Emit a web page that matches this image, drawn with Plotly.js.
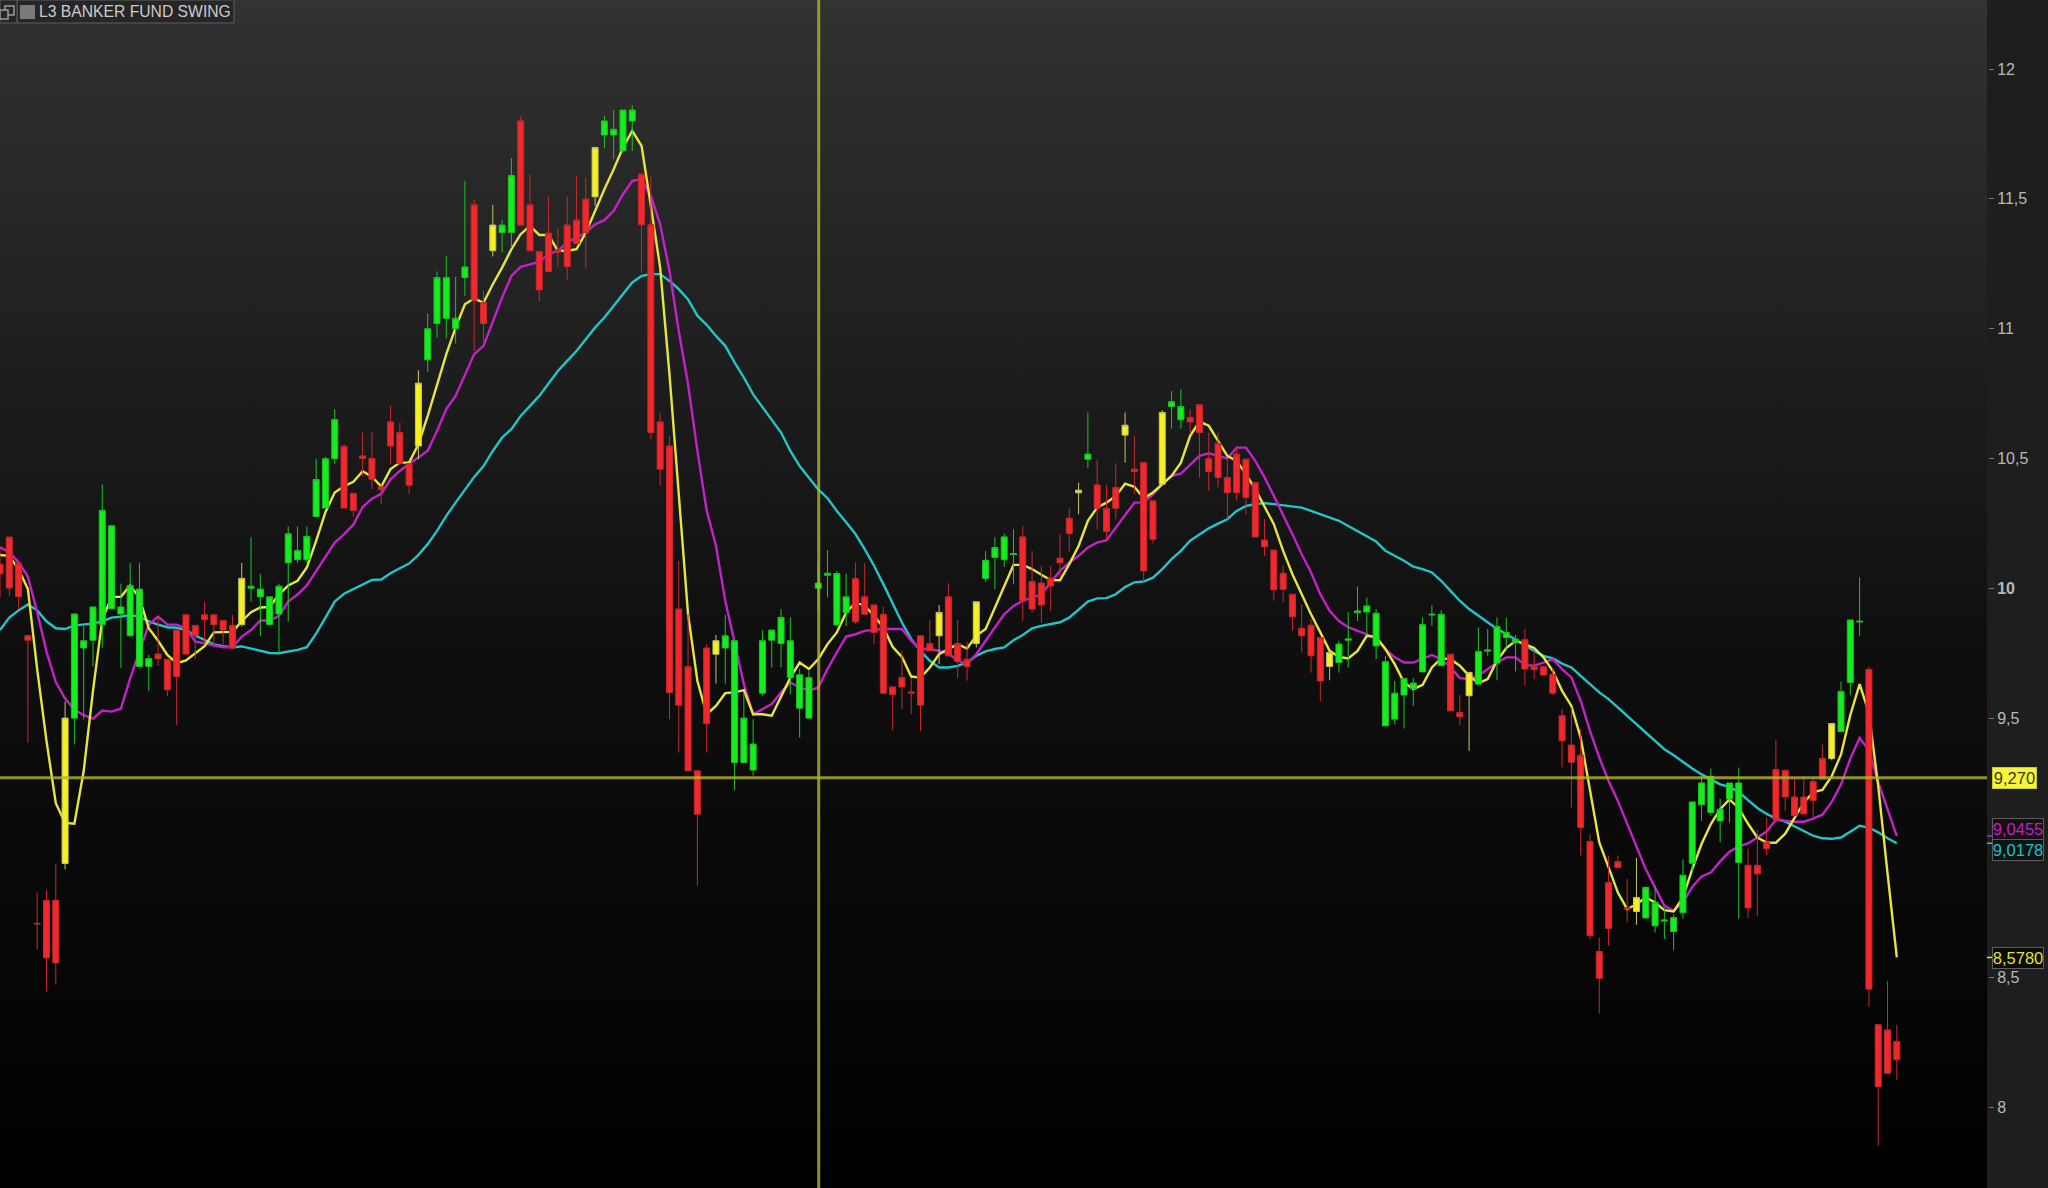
<!DOCTYPE html>
<html>
<head>
<meta charset="utf-8">
<script src="https://cdn.plot.ly/plotly-3.0.1.min.js"></script>
<style>
html,body{margin:0;padding:0;background:#1e1e1e;overflow:hidden}
#chart{width:2048px;height:1188px;
background:linear-gradient(to bottom,#333333 0,#2f2f2f 50px,#0f0f0f 640px,#000 1188px) 0 0/1987px 100% no-repeat,#1e1e1e}
</style>
</head>
<body>
<div id="chart"></div>
<script>
const chartName = "L3 BANKER FUND SWING";
const tickVals = [12,11.5,11,10.5,10,9.5,8.5,8];
const tickLabels = ["12","11,5","11","10,5","<b>10</b>","9,5","8,5","8"];
const tone = ("rrrrrrr y ggggggggg rrrrrrrrr y gggggggggg rrrrrrrr y ggggg rr y gg rrrrrrrr y gggg rrrrrrrr y gggggggggggggg rrrrrrrrr y rrr y gggg rrrrrr y g rrr y rrr y gg rrrrrrrrrrrrrrr y gggggggggggg rr y ggggg rrrrrrrrrrrr y ggggggggggg rrrrrrrrr y ggg rrrr").replace(/ /g,"");
const bodyTop = [
10.093,10.197,10.097,9.818,8.709,8.798,8.798,9.50,9.901,9.798,
9.928,10.30,10.241,9.928,10.011,9.997,9.729,9.747,9.726,9.839,
9.898,9.857,9.898,9.898,9.876,9.857,10.038,10.008,9.997,9.967,
10.008,10.21,10.146,10.2,10.419,10.499,10.65,10.547,10.366,10.51,
10.50,10.39,10.641,10.60,10.48,10.79,11.0,11.197,11.197,11.04,
11.238,11.477,11.10,11.399,11.399,11.59,11.80,11.477,11.297,11.368,
11.305,11.399,11.418,11.499,11.698,11.80,11.768,11.842,11.842,11.595,
11.40,10.641,10.548,9.92,9.698,9.297,9.77,9.798,9.817,9.798,
9.50,9.40,9.798,9.839,9.888,9.798,9.667,9.656,10.02,10.058,
10.057,9.967,10.038,9.967,9.936,9.90,9.62,9.656,9.60,9.817,
9.787,9.907,9.967,9.787,9.727,9.948,10.108,10.157,10.198,10.134,
10.198,10.026,10.02,10.039,10.116,10.27,10.378,10.517,10.398,10.308,
10.388,10.628,10.459,10.484,10.337,10.677,10.719,10.70,10.658,10.707,
10.50,10.558,10.427,10.517,10.497,10.407,10.186,10.147,10.058,9.977,
9.846,9.858,9.81,9.753,9.785,9.805,9.913,9.932,9.904,9.717,
9.596,9.653,9.635,9.86,9.90,9.90,9.746,9.522,9.676,9.757,
9.762,9.853,9.83,9.804,9.802,9.698,9.698,9.669,9.509,9.396,
9.357,9.025,8.601,8.867,8.947,8.77,8.809,8.848,8.79,8.722,
8.732,8.895,9.177,9.25,9.276,9.149,9.25,9.25,8.933,8.933,
9.022,9.302,9.299,9.196,9.196,9.256,9.344,9.479,9.603,9.878,
9.873,9.687,8.319,8.299,8.255];
const bodyBottom = [
10.056,10.001,9.968,9.80,8.707,8.577,8.557,8.94,9.50,9.77,
9.80,9.86,9.921,9.901,9.818,9.699,9.699,9.729,9.609,9.66,
9.747,9.818,9.88,9.86,9.839,9.77,9.86,10.0,9.967,9.86,
9.901,10.098,10.11,10.11,10.276,10.309,10.499,10.309,10.30,10.50,
10.42,10.38,10.548,10.48,10.397,10.548,10.88,11.02,11.04,11.0,
11.197,11.11,11.02,11.30,11.37,11.37,11.399,11.30,11.149,11.22,
11.295,11.239,11.328,11.37,11.508,11.746,11.746,11.685,11.80,11.40,
10.60,10.459,9.599,9.55,9.297,9.13,9.479,9.746,9.77,9.329,
9.329,9.30,9.596,9.80,9.787,9.656,9.538,9.50,10.0,10.05,
9.859,9.907,9.871,9.90,9.83,9.596,9.59,9.62,9.596,9.55,
9.759,9.817,9.74,9.718,9.699,9.787,10.038,10.119,10.11,10.13,
9.952,9.92,9.936,10.009,10.098,10.211,10.368,10.497,10.308,10.219,
10.308,10.59,10.45,10.067,10.189,10.401,10.70,10.649,10.641,10.60,
10.45,10.427,10.368,10.368,10.35,10.198,10.16,9.994,9.996,9.89,
9.817,9.74,9.643,9.699,9.714,9.80,9.906,9.909,9.778,9.47,
9.496,9.589,9.614,9.678,9.897,9.702,9.528,9.505,9.586,9.631,
9.758,9.712,9.81,9.79,9.689,9.687,9.666,9.596,9.413,9.33,
9.079,8.662,8.498,8.69,8.925,8.765,8.755,8.73,8.70,8.718,
8.678,8.75,8.941,9.166,9.136,9.104,9.188,8.944,8.769,8.90,
8.997,9.108,9.196,9.124,9.131,9.183,9.265,9.344,9.448,9.637,
9.87,8.456,8.08,8.132,8.184];
const high = [
10.16,10.197,10.097,9.818,8.828,8.837,8.938,9.564,9.901,9.853,
9.928,10.40,10.241,10.018,10.098,10.098,9.743,9.887,9.726,9.839,
9.898,9.857,9.949,9.898,9.876,9.898,10.098,10.197,10.056,9.967,
10.018,10.238,10.238,10.238,10.499,10.506,10.69,10.554,10.366,10.6,
10.6,10.40,10.703,10.638,10.48,10.84,11.058,11.22,11.28,11.20,
11.57,11.499,11.146,11.477,11.418,11.657,11.82,11.595,11.297,11.508,
11.387,11.508,11.589,11.582,11.698,11.82,11.842,11.842,11.861,11.595,
11.589,10.677,10.587,10.105,9.90,9.297,9.787,9.82,9.898,9.798,
9.599,9.496,9.839,9.839,9.92,9.888,9.689,9.682,10.106,10.147,
10.067,10.057,10.10,10.097,9.936,9.929,9.62,9.759,9.654,9.817,
9.877,9.936,10.019,9.877,9.795,9.948,10.144,10.196,10.211,10.228,
10.24,10.144,10.086,10.086,10.208,10.308,10.407,10.677,10.497,10.398,
10.481,10.677,10.587,10.484,10.337,10.686,10.76,10.767,10.69,10.707,
10.60,10.60,10.50,10.54,10.497,10.407,10.266,10.147,10.089,9.977,
9.936,9.88,9.81,9.76,9.798,9.907,10.007,9.964,9.92,9.74,
9.643,9.653,9.654,9.888,9.935,9.916,9.746,9.589,9.676,9.849,
9.843,9.888,9.888,9.82,9.843,9.76,9.698,9.69,9.535,9.54,
9.458,9.053,8.655,8.97,8.97,8.88,8.961,8.848,8.854,8.77,
8.745,8.956,9.177,9.276,9.306,9.189,9.25,9.309,8.997,9.07,
9.116,9.416,9.299,9.268,9.276,9.276,9.398,9.479,9.641,9.878,
10.042,9.698,8.319,8.488,8.319];
const low = [
9.963,9.970,9.921,9.405,8.608,8.447,8.474,8.917,9.399,9.495,
9.699,9.77,9.921,9.694,9.811,9.699,9.605,9.701,9.584,9.474,
9.743,9.729,9.784,9.77,9.784,9.77,9.853,9.949,9.815,9.86,
9.749,9.873,10.098,10.098,10.276,10.309,10.479,10.309,10.276,10.43,
10.382,10.325,10.478,10.48,10.362,10.497,10.834,10.966,10.963,10.943,
11.126,10.914,10.953,11.278,11.293,11.312,11.399,11.30,11.104,11.22,
11.238,11.187,11.328,11.233,11.473,11.695,11.653,11.678,11.685,11.216,
10.574,10.394,9.496,9.368,9.297,8.854,9.368,9.633,9.633,9.222,
9.329,9.278,9.586,9.695,9.695,9.592,9.425,9.50,9.913,9.965,
9.855,9.855,9.862,9.90,9.785,9.596,9.454,9.535,9.515,9.451,
9.759,9.708,9.74,9.654,9.644,9.772,10.025,9.997,10.083,10.016,
9.875,9.907,9.868,9.913,10.04,10.142,10.285,10.463,10.228,10.189,
10.266,10.484,10.362,10.022,10.172,10.401,10.615,10.615,10.594,10.427,
10.375,10.388,10.266,10.337,10.285,10.198,10.125,9.952,9.945,9.836,
9.752,9.675,9.566,9.646,9.675,9.695,9.874,9.82,9.727,9.47,
9.476,9.46,9.547,9.678,9.856,9.702,9.528,9.474,9.374,9.625,
9.74,9.646,9.76,9.68,9.625,9.65,9.666,9.59,9.31,9.156,
8.97,8.649,8.362,8.623,8.925,8.713,8.704,8.73,8.674,8.649,
8.606,8.727,8.91,9.104,9.124,9.022,9.098,8.727,8.73,8.738,
8.971,9.108,9.144,9.124,9.131,9.116,9.265,9.337,9.448,9.588,
9.817,8.388,7.852,8.132,8.106];
const yellowLine = [
10.128,10.125,10.073,9.997,9.688,9.412,9.172,9.096,9.093,9.296,
9.605,9.88,9.967,9.967,10.011,9.963,9.846,9.798,9.743,9.712,
9.722,9.75,9.777,9.83,9.83,9.832,9.873,9.908,9.926,9.928,
9.976,10.011,10.029,10.08,10.183,10.293,10.369,10.393,10.41,10.451,
10.43,10.392,10.459,10.484,10.484,10.555,10.664,10.786,10.902,11.004,
11.094,11.117,11.10,11.171,11.235,11.306,11.364,11.396,11.361,11.361,
11.30,11.30,11.306,11.37,11.454,11.537,11.614,11.698,11.762,11.704,
11.473,11.235,10.825,10.375,9.90,9.644,9.515,9.547,9.596,9.599,
9.608,9.515,9.515,9.509,9.58,9.656,9.714,9.689,9.727,9.785,
9.83,9.907,9.945,9.933,9.894,9.849,9.775,9.736,9.66,9.656,
9.695,9.746,9.766,9.785,9.768,9.817,9.843,9.926,10.003,10.09,
10.09,10.074,10.052,10.032,10.031,10.093,10.163,10.26,10.311,10.33,
10.356,10.403,10.391,10.347,10.369,10.401,10.433,10.484,10.587,10.642,
10.626,10.568,10.51,10.491,10.44,10.382,10.317,10.247,10.144,10.054,
9.977,9.90,9.83,9.759,9.736,9.73,9.759,9.817,9.813,9.766,
9.708,9.637,9.612,9.628,9.695,9.73,9.727,9.702,9.663,9.635,
9.65,9.721,9.77,9.798,9.785,9.77,9.734,9.682,9.605,9.547,
9.425,9.22,9.021,8.925,8.828,8.764,8.783,8.809,8.79,8.76,
8.755,8.809,8.918,9.015,9.092,9.149,9.187,9.154,9.093,9.04,
9.021,9.02,9.055,9.116,9.174,9.215,9.223,9.276,9.36,9.512,
9.631,9.52,9.238,8.903,8.578];
const magentaLine = [
10.158,10.139,10.10,10.045,9.908,9.756,9.639,9.575,9.533,9.511,
9.498,9.529,9.525,9.536,9.653,9.756,9.86,9.891,9.86,9.86,
9.846,9.795,9.788,9.781,9.773,9.774,9.814,9.839,9.876,9.876,
9.894,9.949,9.976,10.011,10.066,10.121,10.176,10.208,10.245,10.313,
10.345,10.364,10.42,10.452,10.48,10.504,10.53,10.606,10.69,10.741,
10.825,10.902,10.934,11.03,11.12,11.203,11.238,11.248,11.257,11.287,
11.30,11.332,11.351,11.37,11.402,11.418,11.454,11.518,11.569,11.576,
11.511,11.402,11.223,10.991,10.786,10.53,10.3,10.164,9.952,9.785,
9.631,9.515,9.535,9.554,9.599,9.637,9.618,9.605,9.618,9.689,
9.753,9.814,9.823,9.836,9.84,9.843,9.843,9.843,9.798,9.766,
9.766,9.759,9.749,9.721,9.708,9.746,9.798,9.849,9.90,9.932,
9.952,9.964,9.977,10.022,10.067,10.099,10.125,10.157,10.176,10.185,
10.234,10.285,10.33,10.33,10.362,10.401,10.433,10.442,10.478,10.51,
10.52,10.51,10.50,10.542,10.542,10.491,10.427,10.356,10.285,10.208,
10.131,10.061,9.977,9.913,9.874,9.85,9.836,9.823,9.804,9.766,
9.734,9.714,9.714,9.727,9.743,9.727,9.695,9.654,9.65,9.663,
9.689,9.714,9.734,9.734,9.704,9.702,9.714,9.727,9.689,9.657,
9.567,9.451,9.348,9.258,9.181,9.092,9.002,8.918,8.848,8.777,
8.758,8.79,8.85,8.89,8.905,8.948,8.985,9.006,9.017,9.04,
9.063,9.108,9.104,9.101,9.101,9.113,9.128,9.177,9.245,9.344,
9.424,9.375,9.253,9.146,9.0455];
const cyanLine = [
9.839,9.887,9.915,9.938,9.915,9.873,9.846,9.843,9.857,9.86,
9.864,9.873,9.887,9.891,9.897,9.891,9.873,9.86,9.85,9.848,
9.839,9.818,9.80,9.784,9.777,9.773,9.776,9.767,9.759,9.751,
9.75,9.756,9.763,9.773,9.825,9.887,9.949,9.979,9.997,10.015,
10.032,10.034,10.058,10.077,10.095,10.129,10.17,10.221,10.279,10.33,
10.382,10.429,10.471,10.529,10.581,10.613,10.664,10.703,10.741,10.789,
10.837,10.876,10.914,10.959,11.004,11.043,11.088,11.133,11.178,11.203,
11.21,11.21,11.184,11.152,11.113,11.05,11.015,10.972,10.934,10.87,
10.812,10.747,10.699,10.651,10.6,10.529,10.471,10.426,10.381,10.347,
10.298,10.254,10.209,10.151,10.087,10.016,9.939,9.868,9.804,9.759,
9.721,9.695,9.695,9.701,9.714,9.74,9.757,9.766,9.772,9.80,
9.82,9.846,9.855,9.862,9.869,9.887,9.919,9.949,9.961,9.962,
9.977,10.005,10.023,10.026,10.041,10.074,10.112,10.144,10.183,10.208,
10.231,10.249,10.266,10.298,10.317,10.324,10.328,10.324,10.32,10.315,
10.311,10.298,10.285,10.272,10.26,10.24,10.221,10.202,10.18,10.144,
10.125,10.106,10.083,10.074,10.061,10.029,9.99,9.952,9.92,9.894,
9.868,9.843,9.824,9.802,9.781,9.759,9.74,9.73,9.71,9.695,
9.663,9.631,9.599,9.573,9.541,9.509,9.477,9.445,9.413,9.38,
9.357,9.33,9.306,9.283,9.264,9.245,9.235,9.215,9.184,9.154,
9.131,9.113,9.101,9.082,9.063,9.047,9.037,9.035,9.04,9.063,
9.085,9.078,9.06,9.037,9.0178];
const crossPrice = 9.27, crossBar = 88.05;
const crossLabel = "9,270";
const lastYellow = 8.578, lastMagenta = 9.0455, lastCyan = 9.0178;
const lastYellowLabel = "8,5780", lastMagentaLabel = "9,0455", lastCyanLabel = "9,0178";

const bars = bodyTop.map((_, i) => i);
function candles(code, fill, wick) {
  const idx = bars.filter(i => tone[i] === code);
  const side = {line:{color:wick,width:1}, fillcolor:fill};
  return {type:"candlestick", x:idx, open:idx.map(i=>bodyBottom[i]), close:idx.map(i=>bodyTop[i]),
    high:idx.map(i=>high[i]), low:idx.map(i=>low[i]), increasing:side, decreasing:side,
    whiskerwidth:0, hoverinfo:"skip", showlegend:false, zorder:2};
}
function line(values, color) {
  return {type:"scatter", mode:"lines", x:bars, y:values, line:{color, width:2.4}, hoverinfo:"skip", showlegend:false, zorder:1};
}
const data = [
  line(cyanLine, "#22c6c8"),
  line(magentaLine, "#c222c8"),
  line(yellowLine, "#e6e640"),
  candles("g", "#14ee1e", "#1cc424"),
  candles("r", "#f2282c", "#c8282c"),
  candles("y", "#f6f01e", "#c8c46a")
];
const FONT = "Liberation Sans, Arial, sans-serif";
const chip = (bg, bd) => ({bgcolor:bg, bordercolor:bd, borderwidth:1, borderpad:0});
function tag(text, y, yshift, color, bg, bd, w) {
  return Object.assign({text, xref:"paper", yref:"y", x:1, y, xanchor:"left", yanchor:"middle", xshift:5, yshift,
    showarrow:false, width:w, height:20, align:"center", font:{family:FONT,size:16.5,color}}, chip(bg,bd));
}
function tickMark(y, color) {
  return {type:"line", xref:"paper", yref:"y", xsizemode:"pixel", xanchor:1, x0:0, x1:5, y0:y, y1:y, line:{color,width:1.5}, layer:"above"};
}
const layout = {
  width:2048, height:1188, paper_bgcolor:"rgba(0,0,0,0)", plot_bgcolor:"rgba(0,0,0,0)",
  margin:{l:0,r:61,t:0,b:0,pad:0}, showlegend:false, hovermode:false, dragmode:false, boxgap:0.08,
  xaxis:{range:[0,213.7], visible:false, rangeslider:{visible:false}, fixedrange:true},
  yaxis:{side:"right", range:[7.69,12.266], tickmode:"array", tickvals:tickVals, ticktext:tickLabels,
    ticks:"outside", ticklen:5, tickcolor:"#777", tickwidth:1, showline:true, linecolor:"#666", linewidth:2,
    showgrid:false, zeroline:false, fixedrange:true, tickfont:{family:FONT,size:16,color:"#b8b8b8"}},
  shapes:[
    {type:"line", xref:"x", yref:"paper", x0:crossBar, x1:crossBar, y0:0, y1:1, line:{color:"rgba(180,180,45,0.8)",width:3}, layer:"above"},
    {type:"line", xref:"paper", yref:"y", x0:0, x1:1, y0:crossPrice, y1:crossPrice, line:{color:"rgba(180,180,45,0.8)",width:3}, layer:"above"},
    tickMark(lastMagenta,"#c222c8"), tickMark(lastCyan,"#22c6c8"), tickMark(lastYellow,"#e6e640"),
    {type:"rect", xref:"paper", yref:"paper", x0:17/1987, x1:234/1987, y0:1-23/1188, y1:1, fillcolor:"#262626", line:{color:"#5c5c5c",width:1}, layer:"above"},
    {type:"rect", xref:"paper", yref:"paper", x0:20/1987, x1:35/1987, y0:1-19/1188, y1:1-5/1188, fillcolor:"#7a7a7a", line:{width:0}, layer:"above"},
    {type:"rect", xref:"paper", yref:"paper", x0:0, x1:17/1987, y0:1-23/1188, y1:1, fillcolor:"#262626", line:{color:"#5c5c5c",width:1}, layer:"above"},
    {type:"rect", xref:"paper", yref:"paper", x0:5/1987, x1:14/1987, y0:1-15/1188, y1:1-6/1188, fillcolor:"rgba(0,0,0,0)", line:{color:"#9a9a9a",width:1.5}, layer:"above"},
    {type:"rect", xref:"paper", yref:"paper", x0:0, x1:8/1987, y0:1-19/1188, y1:1-10/1188, fillcolor:"#262626", line:{color:"#9a9a9a",width:1.5}, layer:"above"}
  ],
  annotations:[
    {text:chartName, xref:"paper", yref:"paper", x:37/1987, y:1-11.5/1188, xanchor:"left", yanchor:"middle", showarrow:false,
      font:{family:FONT,size:15.7,color:"#cccccc"}},
    tag(crossLabel, crossPrice, 0, "#3c3c10", "#f4f43c", "#c8c83c", 43),
    tag(lastMagentaLabel, lastMagenta, 7, "#c020c4", "#141014", "#5c5c5c", 50),
    tag(lastCyanLabel, lastCyan, -7, "#22c0c4", "#0c1416", "#5c5c5c", 50),
    tag(lastYellowLabel, lastYellow, -0.5, "#e0e040", "#0c0c06", "#5c5c5c", 50)
  ]
};
Plotly.newPlot("chart", data, layout, {staticPlot:true, displayModeBar:false, responsive:false});
</script>
</body>
</html>
